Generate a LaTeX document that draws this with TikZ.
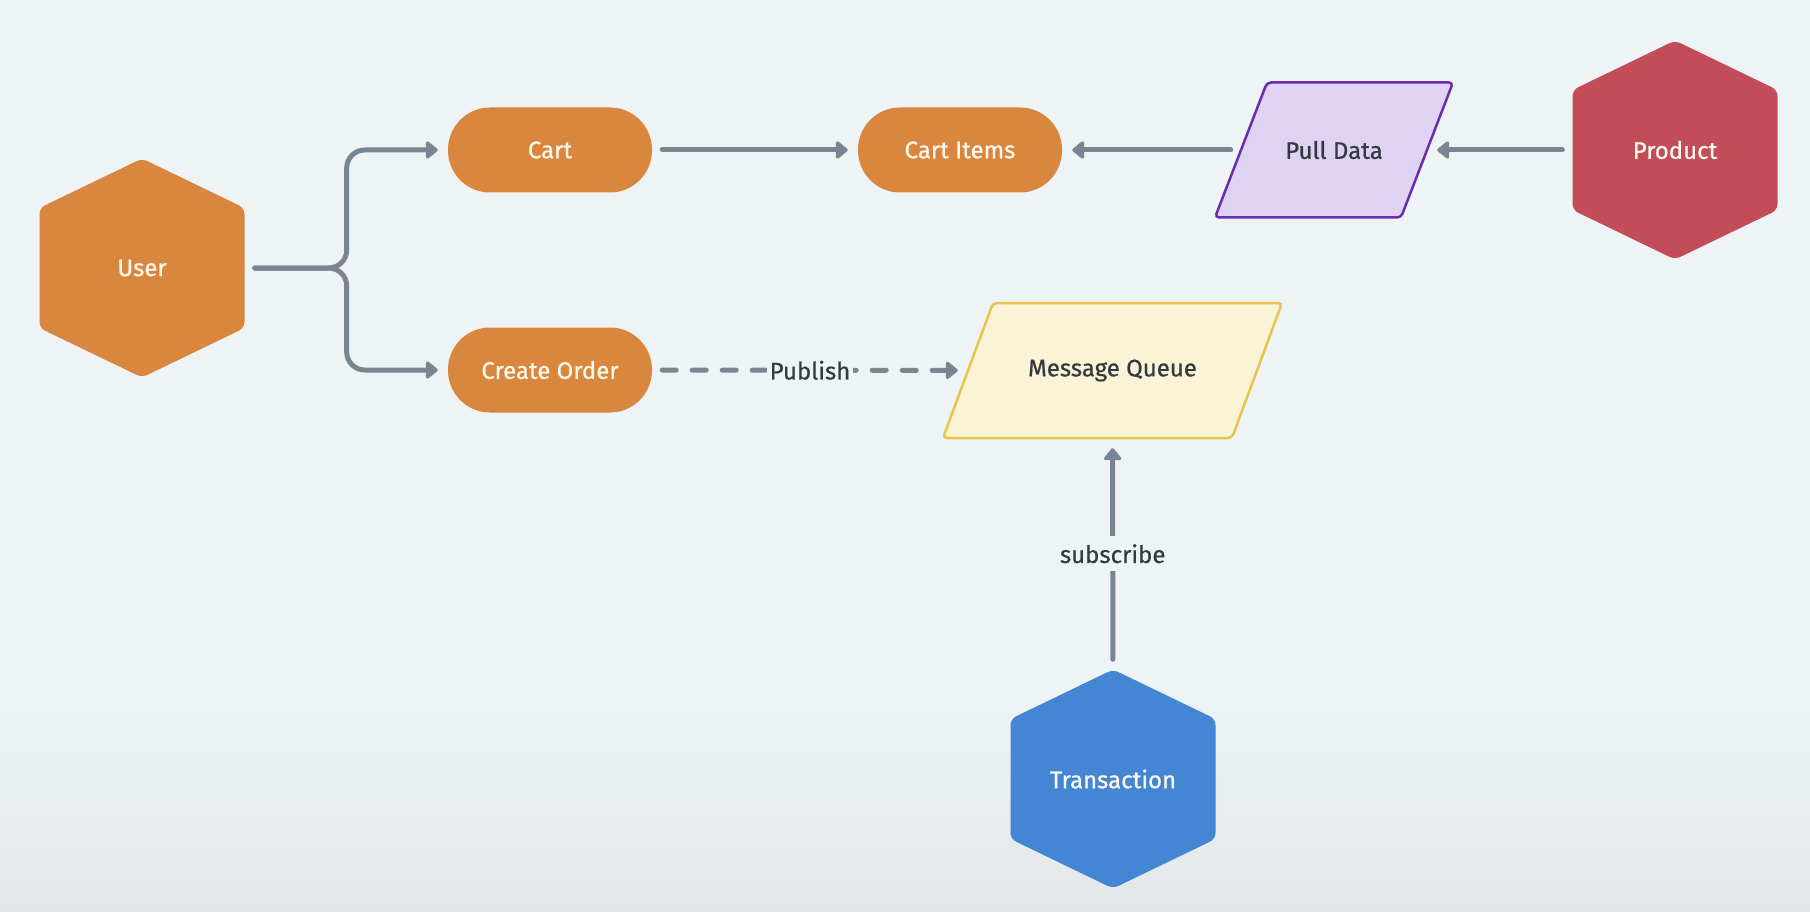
\documentclass[tikz,border=0pt]{standalone}
\usepackage{fontspec}
\setmainfont{Fira Sans}
\newfontfamily\medfont{Fira Sans}[FakeBold=0.7]
\usetikzlibrary{arrows.meta,calc}
\definecolor{bg}{HTML}{EEF4F6}
\definecolor{bgbot}{HTML}{E3E7E9}
\definecolor{orangebox}{HTML}{D9863F}
\definecolor{redbox}{HTML}{C24D58}
\definecolor{bluebox}{HTML}{4386D3}
\definecolor{purplefill}{HTML}{E0D2F2}
\definecolor{purpleline}{HTML}{6A2DB0}
\definecolor{yellowfill}{HTML}{FBF3D5}
\definecolor{yellowline}{HTML}{E9C54B}
\definecolor{arrowgray}{HTML}{798692}
\definecolor{darktext}{HTML}{353A40}
\definecolor{lighttext}{HTML}{FFF8EC}
\newcommand{\hexfill}[2]{%
  \fill[#2, rounded corners=6pt] ($(#1)+(0,-109.5)$) -- ($(#1)+(102.5,-60)$) -- ($(#1)+(102.5,60)$) -- ($(#1)+(0,109.5)$) -- ($(#1)+(-102.5,60)$) -- ($(#1)+(-102.5,-60)$) -- cycle;}
\tikzset{
  txt/.style={font=\medfont\fontsize{24}{28}\selectfont},
  hexnode/.style={txt, text=lighttext, minimum width=205pt, minimum height=219pt, inner sep=0pt},
  pill/.style={txt, text=lighttext, fill=orangebox, rounded corners=42pt, minimum width=204pt, minimum height=85pt, inner sep=0pt},
  paranode/.style={txt, text=darktext, minimum height=135pt, inner sep=0pt},
  arr/.style={draw=arrowgray, line width=5pt, line cap=round, -{Triangle[length=13pt,width=20pt,round]}, shorten <=10pt, shorten >=10pt},
  dashline/.style={dash pattern=on 14pt off 16pt},
  lbl/.style={txt, text=darktext, fill=bg, inner sep=4pt}
}
\begin{document}
\begin{tikzpicture}[x=1pt,y=-1pt]
\useasboundingbox (0,0) rectangle (1810,912);
\fill[bg] (0,0) rectangle (1810,912);
\shade[top color=bg, bottom color=bgbot] (0,680) rectangle (1810,912);

% hexagon centres
\coordinate (userc) at (142,268);
\coordinate (productc) at (1675,150);
\coordinate (transc) at (1113,779);
\coordinate (pullc) at (1334,150);
\coordinate (mqc) at (1112.5,370.5);

\hexfill{userc}{orangebox}
\hexfill{productc}{redbox}
\hexfill{transc}{bluebox}

% parallelograms
\filldraw[fill=purplefill, draw=purpleline, line width=2.5pt, rounded corners=4pt]
  ($(pullc)+(-67,-67.5)$) -- ($(pullc)+(119,-67.5)$) -- ($(pullc)+(67,67.5)$) -- ($(pullc)+(-119,67.5)$) -- cycle;
\filldraw[fill=yellowfill, draw=yellowline, line width=2.5pt, rounded corners=4pt]
  ($(mqc)+(-119.5,-67.5)$) -- ($(mqc)+(169.5,-67.5)$) -- ($(mqc)+(119.5,67.5)$) -- ($(mqc)+(-169.5,67.5)$) -- cycle;

% nodes
\node[hexnode] (user) at (userc) {User};
\node[hexnode] (product) at (productc) {Product};
\node[hexnode] (trans) at (transc) {Transaction};
\node[pill] (cart) at (550,150) {Cart};
\node[pill] (citems) at (960,150) {Cart Items};
\node[pill] (corder) at (550,370) {Create Order};
\node[paranode, minimum width=186pt] (pull) at (pullc) {Pull Data};
\node[paranode, minimum width=289pt] (mq) at (mqc) {Message Queue};

% connectors
\draw[arr, rounded corners=18pt] (user.east) -- ++(102,0) |- (cart.west);
\draw[arr, rounded corners=18pt] (user.east) -- ++(102,0) |- (corder.west);
\draw[arr] (cart) -- (citems);
\draw[arr] (pull) -- (citems);
\draw[arr] (product) -- (pull);
\draw[arr, dashline] (corder) -- node[lbl, inner sep=3pt] {Publish} (mq);
\draw[arr] (trans) -- node[lbl, inner xsep=2pt, inner ysep=8pt] {subscribe} (mq);
\end{tikzpicture}
\end{document}
